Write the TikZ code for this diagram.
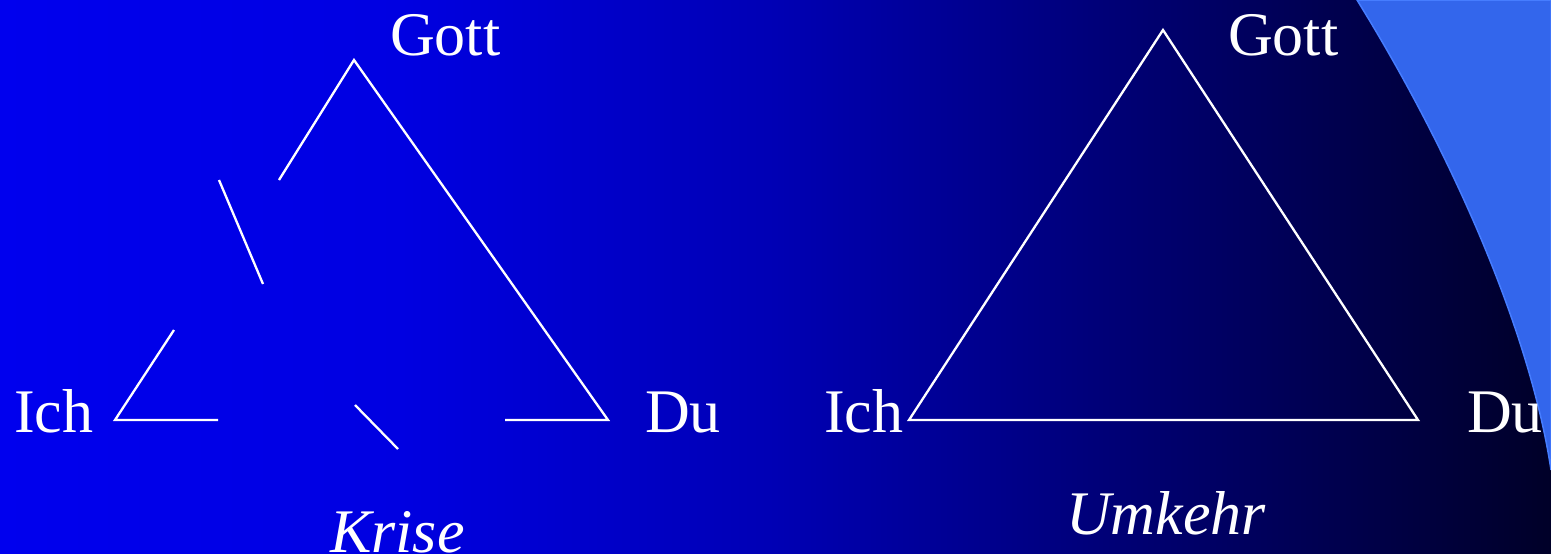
\documentclass[tikz,border=0pt]{standalone}
\usepackage{fontspec}
\setmainfont{Liberation Serif}
\usepackage{xcolor}
\usepackage{tikz}
\usetikzlibrary{positioning, calc}
\definecolor{bgblue}{RGB}{0,0,238}
\definecolor{bgone}{RGB}{0,0,225}
\definecolor{bgmid}{RGB}{0,0,180}
\definecolor{bgtwo}{RGB}{0,0,120}
\definecolor{bgdark}{RGB}{0,0,40}
\definecolor{swoosh}{RGB}{51,102,236}
\definecolor{swooshedge}{RGB}{70,125,255}
\tikzset{
  lbl/.style={font=\fontsize{62}{70}\selectfont, text=white, inner sep=0pt},
  itlbl/.style={font=\fontsize{62}{70}\selectfont\itshape, text=white, inner sep=0pt},
  side/.style={draw=white, line width=2.3pt},
  swooshfill/.style={fill=swoosh, draw=swooshedge, line width=1.5pt}
}

\begin{document}
\begin{tikzpicture}[x=1pt, y=-1pt]
  \useasboundingbox (0,0) rectangle (1551,554);
  % background
  \shade[left color=bgblue, right color=bgone] (0,0) rectangle (401,554);
  \shade[left color=bgone, right color=bgmid] (400,0) rectangle (776,554);
  \shade[left color=bgmid, right color=bgtwo] (775,0) rectangle (1101,554);
  \shade[left color=bgtwo, right color=bgdark] (1100,0) rectangle (1551,554);
  \path[swooshfill] (1357,0) .. controls (1450,150) and (1530,330) .. (1551,470) -- (1551,0) -- cycle;

  % broken triangle
  \coordinate (gL) at (354,60);
  \coordinate (iL) at (115,420);
  \coordinate (dL) at (608,420);
  \coordinate (gcut) at (279,180);
  \coordinate (icut) at (174,330);
  \coordinate (ibase) at (218,420);
  \coordinate (dbase) at (505,420);
  \coordinate (shardA) at (219,180);
  \coordinate (shardB) at (263,284);
  \coordinate (shardC) at (355,405);
  \coordinate (shardD) at (398,449);

  \draw[side] (gcut) -- (gL) -- (dL) -- (dbase);
  \draw[side] (icut) -- (iL) -- (ibase);
  \draw[side] (shardA) -- (shardB);
  \draw[side] (shardC) -- (shardD);

  \node[lbl, anchor=base west] (gottL) at (390,55) {Gott};
  \node[lbl, anchor=base west] (ichL) at (14,432) {Ich};
  \node[lbl, anchor=base west] (duL) at (645,432) {Du};
  \node[itlbl, anchor=base west] (kriseL) at (330,552) {Krise};

  % whole triangle
  \coordinate (gR) at (1163,30);
  \coordinate (iR) at (909,420);
  \coordinate (dR) at (1418,420);
  \draw[side] (gR) -- (dR) -- (iR) -- cycle;

  \node[lbl, anchor=base west] (gottR) at (1228,55) {Gott};
  \node[lbl, anchor=base west] (ichR) at (824,432) {Ich};
  \node[lbl, anchor=base west] (duR) at (1467,432) {Du};
  \node[itlbl, anchor=base west] (umkehrR) at (1066,534) {Umkehr};
\end{tikzpicture}
\end{document}
